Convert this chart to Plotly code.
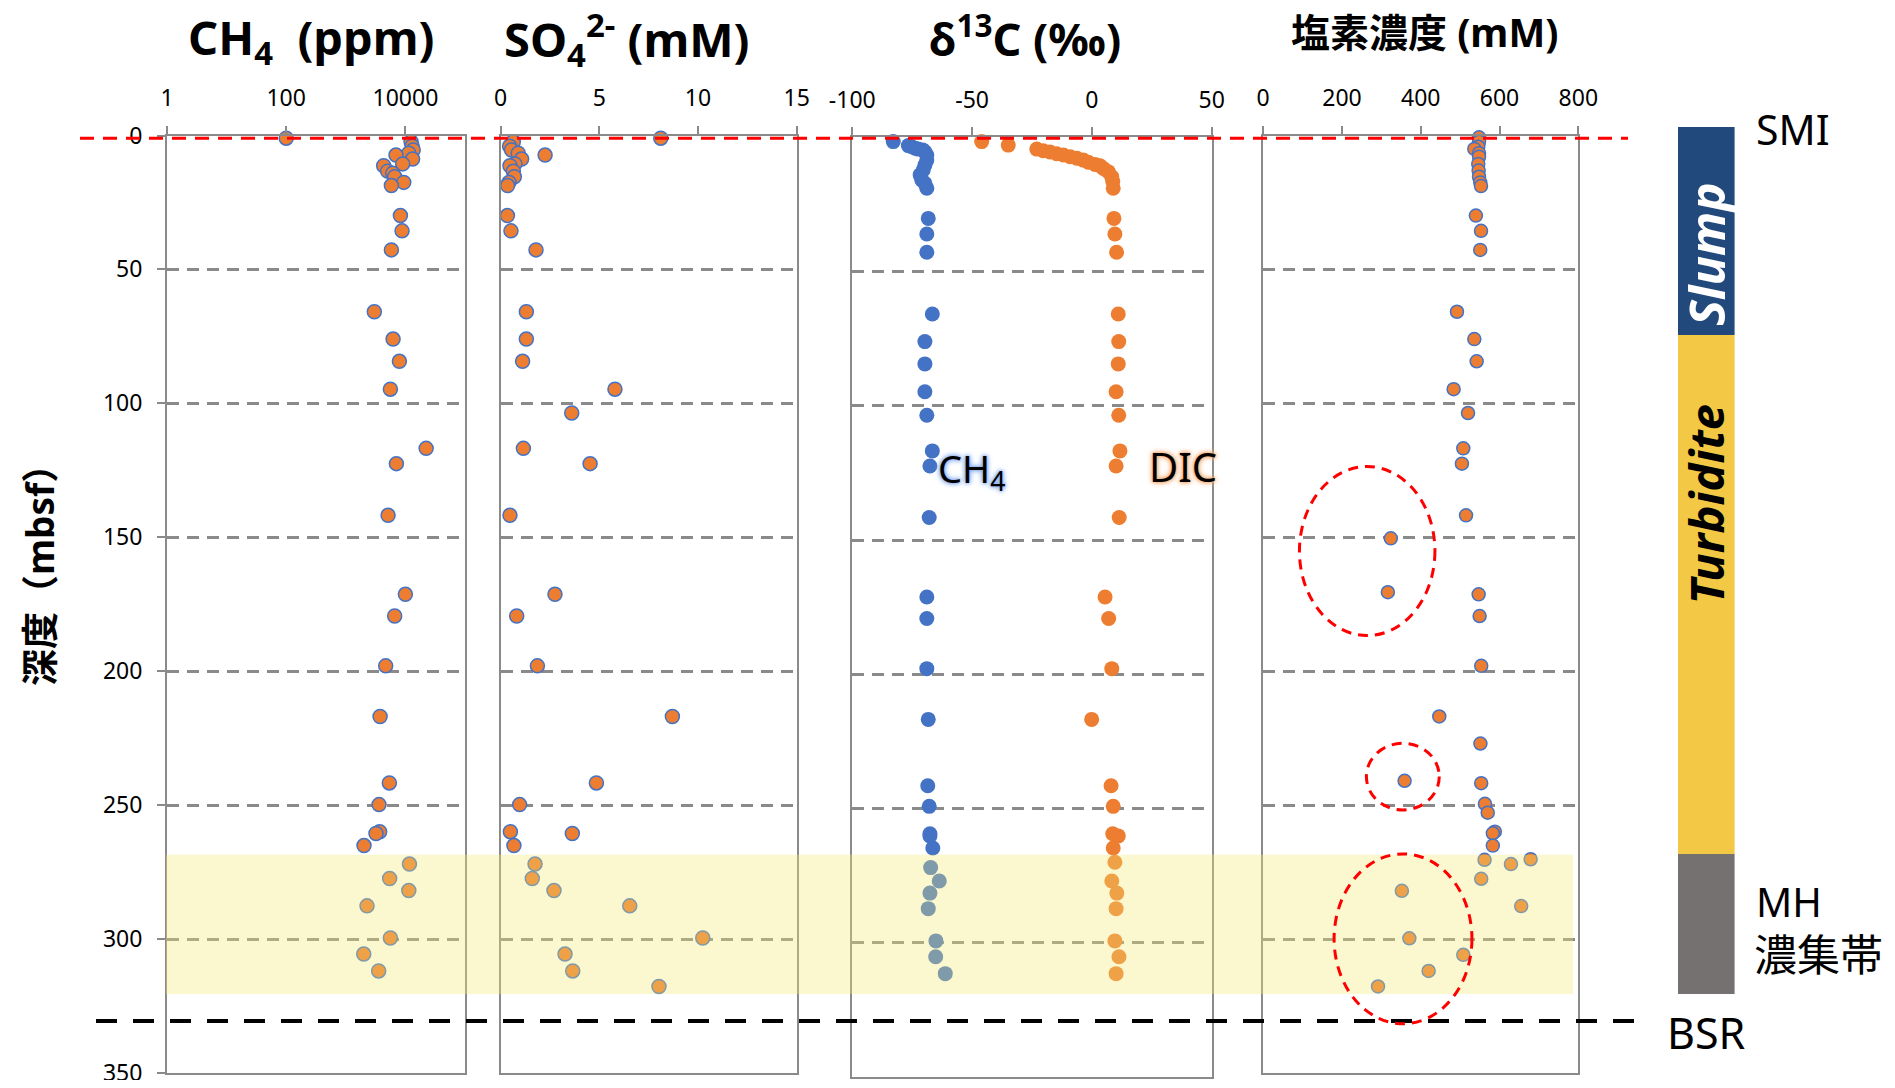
import plotly.graph_objects as go

# ---------------- data ----------------
CH4_DEPTH = [1.0, 2.3, 4.0, 5.4, 6.6, 7.3, 8.8, 10.6, 11.3, 13.3, 14.1, 15.4, 17.5, 18.7,
             29.9, 35.6, 42.7, 65.8, 76.0, 84.3, 94.7, 116.8, 122.5, 141.8, 171.3, 179.4,
             198.0, 216.9, 241.7, 249.8, 259.9, 260.6, 265.1, 272.0, 277.4, 281.9, 287.6,
             299.6, 305.6, 311.9]
CH4_PPM = [100, 12450, 13000, 13500, 11400, 6950, 13200, 9000, 4320, 5030, 6120, 6610, 9380,
           5820, 8240, 8790, 5820, 3010, 6210, 7930, 5600, 22300, 7060, 5120, 10000, 6610,
           4670, 3760, 5380, 3610, 3700, 3210, 2020, 11700, 5440, 11400, 2270, 5600, 2000, 3560]

SO4_DEPTH = [1.0, 2.3, 4.0, 5.4, 6.6, 7.3, 8.8, 10.6, 11.3, 13.3, 15.4, 17.5, 18.7, 29.9,
             35.6, 42.7, 65.8, 76.0, 84.3, 94.7, 103.6, 116.8, 122.5, 141.8, 171.3, 179.4,
             198.0, 216.9, 241.7, 249.8, 259.9, 260.6, 265.1, 272.0, 277.4, 281.9, 287.6,
             299.6, 305.6, 311.9, 317.7]
SO4_MM = [8.11, 0.64, 0.45, 0.55, 0.89, 2.25, 1.06, 0.72, 0.47, 0.64, 0.69, 0.42, 0.35, 0.34,
          0.52, 1.79, 1.30, 1.30, 1.11, 5.79, 3.60, 1.15, 4.53, 0.47, 2.75, 0.81, 1.86, 8.70,
          4.85, 0.96, 0.49, 3.63, 0.67, 1.74, 1.60, 2.70, 6.54, 10.24, 3.26, 3.65, 8.02]

D13C_CH4_DEPTH = [1.6, 3.1, 3.5, 4.1, 4.4, 4.7, 5.4, 6.6, 8.5, 10.3, 12.2, 14.0, 15.9, 17.1,
                  19.0, 30.2, 36.0, 42.8, 65.8, 76.1, 84.4, 94.8, 103.5, 116.8, 122.4, 141.6,
                  171.2, 179.2, 197.9, 216.8, 241.5, 249.2, 259.4, 260.2, 264.7, 272.0, 277.0,
                  281.5, 287.3, 299.3, 305.2, 311.5]
D13C_CH4 = [-82.9, -76.6, -75.2, -73.8, -72.5, -70.6, -69.7, -68.9, -68.9, -69.7, -70.4, -71.7,
            -71.0, -69.7, -68.9, -68.3, -68.9, -68.9, -66.6, -69.7, -69.7, -69.7, -68.9, -66.6,
            -67.6, -67.9, -68.9, -68.9, -68.9, -68.3, -68.5, -67.9, -67.6, -67.6, -66.4, -67.3,
            -63.7, -67.6, -68.3, -65.1, -65.2, -61.2]

D13C_DIC_DEPTH = [1.6, 2.9, 4.4, 5.0, 5.5, 6.1, 6.6, 7.2, 7.8, 8.5, 9.3, 10.1, 10.6, 11.6,
                  12.8, 14.7, 16.5, 19.0, 30.2, 36.0, 42.8, 65.8, 76.1, 84.4, 94.8, 103.5,
                  116.8, 122.4, 141.6, 171.2, 179.2, 197.9, 216.8, 241.5, 249.2, 259.4, 260.2,
                  264.7, 270.0, 277.0, 281.5, 287.3, 299.3, 305.2, 311.5]
D13C_DIC = [-46.0, -34.9, -23.0, -20.3, -17.5, -14.7, -11.9, -9.1, -6.3, -3.6, -1.5, 1.3, 3.4,
            4.8, 6.8, 8.3, 8.7, 8.9, 9.2, 9.6, 10.3, 11.0, 11.2, 11.0, 10.1, 11.2, 11.7, 10.1,
            11.4, 5.5, 7.0, 8.3, -0.1, 8.0, 8.9, 8.7, 11.0, 8.9, 9.6, 8.3, 10.4, 10.1, 9.6,
            11.3, 10.1]

CL_DEPTH = [0.7, 2.3, 4.2, 5.0, 6.6, 7.9, 10.6, 13.1, 15.4, 17.5, 18.9, 29.9, 35.6, 42.7,
            65.8, 76.0, 84.3, 94.7, 103.6, 116.8, 122.5, 141.8, 150.4, 170.5, 171.3, 179.4,
            198.0, 216.9, 227.0, 240.9, 241.8, 249.5, 252.8, 259.9, 260.5, 265.1, 270.2,
            270.4, 272.0, 277.5, 282.0, 287.7, 299.7, 305.9, 311.9, 317.7]
CL_MM = [548, 548, 546, 536, 548, 548, 546, 547, 548, 551, 553, 540, 553, 551, 492, 536, 542,
         483.5, 520, 508, 504.5, 515, 324, 316.5, 547, 549.5, 553.5, 447, 551.5, 359, 553.5,
         563, 570, 588, 583, 583, 679, 562, 629, 553.5, 352, 655, 371, 508, 420, 291.5]

UNIT_NAMES = ["Slump", "Turbidite", "MH"]
UNIT_TOP = [-3.3, 74.5, 268.4]
UNIT_BOTTOM = [74.5, 268.4, 320.4]
MH_ZONE = [268.5, 320.5]
SMI_DEPTH = 1.0
BSR_DEPTH = 330.6
CL_ANOMALY_X = [[92, 436], [262, 447], [180, 530]]
CL_ANOMALY_Y = [[123.6, 186.7], [226.9, 251.8], [268.2, 331.6]]

DEPTH_TICKS = [0, 50, 100, 150, 200, 250, 300, 350]
CH4_TICKS = [1, 100, 10000]
SO4_TICKS = [0, 5, 10, 15]
D13C_TICKS = [-100, -50, 0, 50]
CL_TICKS = [0, 200, 400, 600, 800]

# ---------------- styling / layout helpers ----------------
ORANGE = "#ED7D31"
BLUE = "#4472C4"
GRAY = "#8A8A8A"
UNIT_COLORS = ["#22497B", "#F2C844", "#767171"]
FONT = "Noto Sans, Noto Sans CJK JP, sans-serif"

W, H, OFF = 1879, 1072, 8   # page body has an 8px margin


def fx(px):
    return (px - OFF) / W


def fy(py):
    return 1 - (py - OFF) / H


fig = go.Figure()

dot = dict(size=14, color=ORANGE, line=dict(color=BLUE, width=1.5))
fig.add_trace(go.Scatter(x=CH4_PPM, y=CH4_DEPTH, mode="markers", marker=dot,
                         xaxis="x", yaxis="y", cliponaxis=False, showlegend=False))
fig.add_trace(go.Scatter(x=SO4_MM, y=SO4_DEPTH, mode="markers", marker=dot,
                         xaxis="x2", yaxis="y2", cliponaxis=False, showlegend=False))
fig.add_trace(go.Scatter(x=D13C_CH4, y=D13C_CH4_DEPTH, mode="markers",
                         marker=dict(size=15, color=BLUE), xaxis="x3", yaxis="y3",
                         cliponaxis=False, showlegend=False))
fig.add_trace(go.Scatter(x=D13C_DIC, y=D13C_DIC_DEPTH, mode="markers",
                         marker=dict(size=15, color=ORANGE), xaxis="x3", yaxis="y3",
                         cliponaxis=False, showlegend=False))
fig.add_trace(go.Scatter(x=CL_MM, y=CL_DEPTH, mode="markers",
                         marker=dict(size=13, color=ORANGE, line=dict(color=BLUE, width=1.5)),
                         xaxis="x4", yaxis="y4", cliponaxis=False, showlegend=False))

# stratigraphic column
fig.add_trace(go.Bar(x=[0] * len(UNIT_NAMES),
                     y=[b - t for t, b in zip(UNIT_TOP, UNIT_BOTTOM)],
                     base=UNIT_TOP, width=[1] * len(UNIT_NAMES),
                     marker=dict(color=UNIT_COLORS, line=dict(width=0)),
                     xaxis="x5", yaxis="y5", showlegend=False, hoverinfo="skip"))

panels = {
    "": dict(x=(167, 465), y=(135.5, 1073)),
    "2": dict(x=(500.7, 796.7), y=(135.5, 1073)),
    "3": dict(x=(852.3, 1211.7), y=(137.3, 1077)),
    "4": dict(x=(1263.2, 1578.3), y=(135.5, 1073)),
}
xconf = {
    "": dict(type="log", range=[0, 5], tickvals=CH4_TICKS, ticktext=[str(t) for t in CH4_TICKS]),
    "2": dict(range=[0, 15], tickvals=SO4_TICKS, ticktext=[str(t) for t in SO4_TICKS]),
    "3": dict(range=[-100, 50], tickvals=D13C_TICKS, ticktext=[str(t) for t in D13C_TICKS]),
    "4": dict(range=[0, 800], tickvals=CL_TICKS, ticktext=[str(t) for t in CL_TICKS]),
}
tickfont = dict(size=23, color="black", family=FONT)
layout_axes = {}
for k, p in panels.items():
    xa = dict(domain=[fx(p["x"][0]), fx(p["x"][1])], anchor="y" + k, side="top",
              ticks="outside", ticklen=8, tickwidth=2, tickcolor=GRAY,
              showline=True, linecolor=GRAY, linewidth=2, mirror=True, automargin=False,
              showgrid=False, zeroline=False, tickfont=tickfont, ticklabelstandoff=10)
    xa.update(xconf[k])
    ya = dict(domain=[fy(p["y"][1]), fy(p["y"][0])], anchor="x" + k, range=[350, 0],
              tickvals=DEPTH_TICKS, showgrid=True, gridcolor=GRAY, gridwidth=2.5,
              griddash="12px,8px", showline=True, linecolor=GRAY, linewidth=2,
              mirror=True, zeroline=False, automargin=False)
    if k == "":
        ya.update(ticks="outside", ticklen=8, tickwidth=2, tickcolor=GRAY,
                  tickfont=tickfont, ticklabelstandoff=10, ticklabeloverflow="allow")
    else:
        ya.update(ticks="", showticklabels=False)
    layout_axes["xaxis" + k] = xa
    layout_axes["yaxis" + k] = ya

layout_axes["xaxis5"] = dict(domain=[fx(1677.8), fx(1734.6)], range=[-0.5, 0.5],
                             anchor="y5", visible=False, automargin=False)
layout_axes["yaxis5"] = dict(domain=[fy(1073), fy(120)], range=[350, -5.79],
                             anchor="x5", visible=False, automargin=False)

shapes = []
# MH concentration zone band (semi-transparent, above the markers)
shapes.append(dict(type="rect", xref="paper", yref="y", x0=fx(166), x1=fx(1573),
                   y0=MH_ZONE[0], y1=MH_ZONE[1], fillcolor="rgba(243,231,115,0.34)",
                   line=dict(width=0), layer="above"))
# SMI line
shapes.append(dict(type="line", xref="paper", yref="y", x0=fx(80), x1=fx(1628),
                   y0=SMI_DEPTH, y1=SMI_DEPTH, line=dict(color="#FF0000", width=3,
                                                         dash="14px,9px"), layer="above"))
# BSR line
shapes.append(dict(type="line", xref="paper", yref="y", x0=fx(96), x1=fx(1645),
                   y0=BSR_DEPTH, y1=BSR_DEPTH, line=dict(color="black", width=4,
                                                         dash="21px,16px"), layer="above"))
# chloride anomaly ellipses
for (ex0, ex1), (ey0, ey1) in zip(CL_ANOMALY_X, CL_ANOMALY_Y):
    shapes.append(dict(type="circle", xref="x4", yref="y4", x0=ex0, x1=ex1, y0=ey0, y1=ey1,
                       line=dict(color="#FF0000", width=3, dash="10px,7px"), layer="above"))

ann = []


def label(text, px, py, size, xanchor="center", bold=False, **kw):
    t = f"<b>{text}</b>" if bold else text
    d = dict(text=t, x=fx(px), y=fy(py), xref="paper", yref="paper", showarrow=False,
             xanchor=xanchor, yanchor="middle",
             font=dict(size=size, color="black", family=FONT))
    d.update(kw)
    ann.append(d)


label("CH<sub>4</sub>  (ppm)", 311.7, 40, 47, bold=True)
label("SO<sub>4</sub><sup>2-</sup> (mM)", 626.7, 40, 47, bold=True)
label("δ<sup>13</sup>C (‰)", 1025, 36, 45, bold=True)
label("塩素濃度 (mM)", 1424, 31, 39, bold=True)
label("深度（mbsf）", 39, 566, 37, bold=True, textangle=-90)
label("SMI", 1754, 129, 41, xanchor="left")
label("MH", 1754, 901, 40, xanchor="left")
label("濃集帯", 1752, 954, 43, xanchor="left")
label("BSR", 1665, 1032, 43, xanchor="left")

ann.append(dict(text="CH<sub>4</sub>", x=fx(936), y=fy(470), xref="paper", yref="paper",
                showarrow=False, xanchor="left", yanchor="middle",
                font=dict(size=38, color="black", family=FONT,
                          shadow="0px 0px 3px #7EA6EC, 0px 0px 5px #7EA6EC, 0px 0px 6px #9DBCF2")))
ann.append(dict(text="DIC", x=fx(1147), y=fy(466), xref="paper", yref="paper",
                showarrow=False, xanchor="left", yanchor="middle",
                font=dict(size=40, color="black", family=FONT,
                          shadow="0px 0px 3px #F5A66A, 0px 0px 5px #F5A66A, 0px 0px 6px #F8C49C")))

# unit names in the stratigraphic column
UNIT_LABEL_DEPTH = [44.2, 137.6]
UNIT_LABEL_COLOR = ["white", "black"]
UNIT_LABEL_SIZE = [49, 47]
for name, dep, col, sz in zip(UNIT_NAMES[:2], UNIT_LABEL_DEPTH, UNIT_LABEL_COLOR, UNIT_LABEL_SIZE):
    ann.append(dict(text=f"<b><i>{name}</i></b>", x=0, y=dep, xref="x5", yref="y5",
                    showarrow=False, textangle=-90, xanchor="center", yanchor="middle",
                    font=dict(size=sz, color=col, family=FONT)))

fig.update_layout(template="none", width=W, height=H,
                  margin=dict(l=0, r=0, t=0, b=0, pad=0, autoexpand=False),
                  paper_bgcolor="white", plot_bgcolor="white", showlegend=False,
                  font=dict(family=FONT, color="black"), bargap=0,
                  shapes=shapes, annotations=ann, **layout_axes)

fig.write_html("out.html")
